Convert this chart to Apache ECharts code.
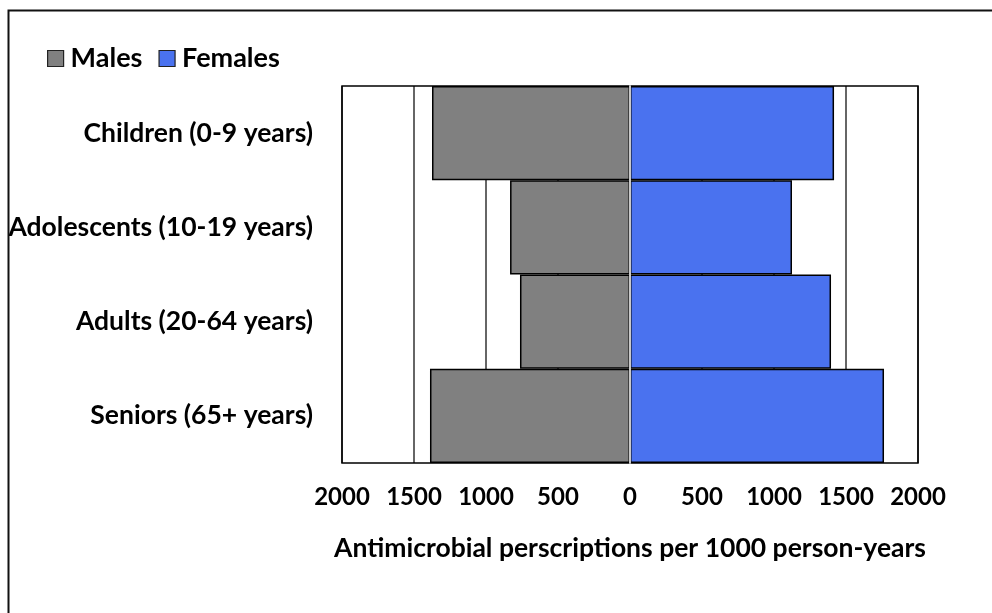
<!DOCTYPE html>
<html>
<head>
<meta charset="utf-8">
<script src="https://cdn.jsdelivr.net/npm/echarts@6/dist/echarts.min.js"></script>
<style>html,body{margin:0;padding:0;background:#fff;}#c{width:992px;height:613px;}</style>
</head>
<body>
<div id="c"></div>
<script>
const categories = ['Children (0-9 years)', 'Adolescents (10-19 years)', 'Adults (20-64 years)', 'Seniors (65+ years)'];
const males = [1375, 833, 764, 1389];
const females = [1417, 1125, 1396, 1764];

const font = 'Lato, "Liberation Sans", sans-serif';
const chart = echarts.init(document.getElementById('c'));
const neg = a => a.map(v => -v);

chart.setOption({
  animation: false,
  backgroundColor: '#fff',
  graphic: [{
    type: 'rect', left: 6, top: 8, shape: { x: 0, y: 0, width: 1100, height: 700 },
    style: { fill: 'none', stroke: '#111', lineWidth: 2 }, silent: true, z: 100
  }],
  legend: {
    left: 47, top: 45, padding: 0, itemWidth: 16, itemHeight: 16, itemGap: 16,
    data: ['Males', 'Females'],
    textStyle: { fontFamily: font, fontWeight: 'bold', fontSize: 27, color: '#000', padding: [0, 0, 0, 2] },
    icon: 'rect',
    itemStyle: { borderColor: '#222', borderWidth: 1.2 }
  },
  grid: { left: 342, right: 74, top: 86, bottom: 150, show: true, borderColor: '#000', borderWidth: 1.5, backgroundColor: 'transparent', z: 5 },
  xAxis: {
    type: 'value', min: -2000, max: 2000, interval: 500,
    axisLine: { show: false }, axisTick: { show: false },
    splitLine: { show: true, lineStyle: { color: '#333', width: 1.5 } },
    axisLabel: { formatter: v => String(Math.abs(v)), fontFamily: font, fontWeight: 'bold', fontSize: 24, color: '#000', margin: 22 },
    name: 'Antimicrobial perscriptions per 1000 person-years', nameLocation: 'middle', nameGap: 72,
    nameTextStyle: { fontFamily: font, fontWeight: 'bold', fontSize: 26.5, color: '#000' }
  },
  yAxis: {
    type: 'category', data: categories, inverse: true, z: 10,
    axisLine: { show: true, onZero: true, lineStyle: { color: '#c8c8c8', width: 2 } },
    axisTick: { show: false },
    axisLabel: { fontFamily: font, fontWeight: 'bold', fontSize: 26.5, color: '#000', margin: 29 }
  },
  series: [
    { name: 'Males', type: 'bar', data: neg(males), barGap: '-100%', barCategoryGap: 0, z: 2,
      itemStyle: { color: '#808080', borderColor: '#000', borderWidth: 1.5 } },
    { name: 'Females', type: 'bar', data: females, barGap: '-100%', barCategoryGap: 0, z: 2,
      itemStyle: { color: '#4a72ef', borderColor: '#000', borderWidth: 1.5 } }
  ]
});
</script>
</body>
</html>
